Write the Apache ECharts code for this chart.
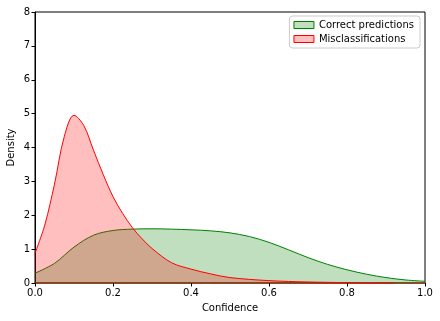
<!DOCTYPE html>
<html>
<head>
<meta charset="utf-8">
<script src="https://cdn.jsdelivr.net/npm/echarts@6/dist/echarts.min.js"></script>
<style>
  html, body { margin: 0; padding: 0; background: #fff; }
  #chart { width: 440px; height: 321px; }
</style>
</head>
<body>
<div id="chart"></div>
<script>
// KDE curves
const correctX = [0, 0.05, 0.1, 0.15, 0.2, 0.25, 0.3, 0.35, 0.4, 0.45, 0.5, 0.55, 0.6, 0.65, 0.7, 0.75, 0.8, 0.85, 0.9, 0.95, 1.0];
const correctY = [0.29, 0.58, 1.06, 1.41, 1.55, 1.59, 1.6, 1.59, 1.57, 1.54, 1.48, 1.37, 1.2, 0.98, 0.75, 0.55, 0.39, 0.26, 0.16, 0.09, 0.05];

const misX = [0, 0.025, 0.05, 0.075, 0.1, 0.125, 0.15, 0.175, 0.2, 0.225, 0.25, 0.275, 0.3, 0.35, 0.4, 0.45, 0.5, 0.6, 0.7, 0.8, 0.92];
const misY = [0.88, 1.71, 2.92, 4.32, 4.95, 4.65, 3.92, 3.2, 2.55, 2.05, 1.63, 1.3, 1.02, 0.6, 0.41, 0.27, 0.16, 0.07, 0.03, 0.012, 0];

const seriesNames = ['Correct predictions', 'Misclassifications'];
const xTicks = { min: 0, max: 1, step: 0.2 };
const yTicks = { min: 0, max: 8, step: 1 };

const pairs = (xs, ys) => xs.map((x, i) => [x, ys[i]]);

const font = 'DejaVu Sans';
const chart = echarts.init(document.getElementById('chart'), null, { renderer: 'canvas' });
chart.setOption({
  backgroundColor: '#fff',
  animation: false,
  grid: {
    left: 35, right: 15, top: 12, bottom: 38, outerBoundsMode: 'none', containLabel: false,
    show: true, borderColor: '#000', borderWidth: 1,
  },
  legend: {
    orient: 'vertical', right: 20, top: 16,
    itemWidth: 20, itemHeight: 7, itemGap: 4,
    padding: [4, 6, 4, 4],
    backgroundColor: '#fff', borderColor: '#ccc', borderWidth: 1, borderRadius: 3,
    textStyle: { color: '#000', fontFamily: font, fontSize: 10 },
    data: [
      { name: seriesNames[0], icon: 'rect', itemStyle: { color: '#bfdfbf', borderColor: '#008000', borderWidth: 1 } },
      { name: seriesNames[1], icon: 'rect', itemStyle: { color: '#ffbfbf', borderColor: '#ff0000', borderWidth: 1 } },
    ],
  },
  xAxis: {
    type: 'value', min: xTicks.min, max: xTicks.max, interval: xTicks.step,
    name: 'Confidence', nameLocation: 'middle', nameGap: 20, nameMoveOverlap: false,
    nameTextStyle: { color: '#000', fontFamily: font, fontSize: 10 },
    axisLine: { show: true, onZero: false, lineStyle: { color: '#8a3a10', width: 1.5 } },
    axisTick: { show: true, length: 3.5, lineStyle: { color: '#000' } },
    axisLabel: { color: '#000', fontFamily: font, fontSize: 10, margin: 5, formatter: v => v.toFixed(1) },
    splitLine: { show: false },
  },
  yAxis: {
    type: 'value', min: yTicks.min, max: yTicks.max, interval: yTicks.step,
    name: 'Density', nameLocation: 'middle', nameGap: 19, nameMoveOverlap: false,
    nameTextStyle: { color: '#000', fontFamily: font, fontSize: 10 },
    axisLine: { show: true, lineStyle: { color: '#000' } },
    axisTick: { show: true, length: 3.5, lineStyle: { color: '#000' } },
    axisLabel: { color: '#000', fontFamily: font, fontSize: 10, margin: 5 },
    splitLine: { show: false },
  },
  series: [
    {
      name: seriesNames[0], type: 'line', data: pairs(correctX, correctY),
      smooth: 0.35, showSymbol: false, z: 2,
      lineStyle: { color: '#008000', width: 1 },
      itemStyle: { color: '#bfdfbf', borderColor: '#008000' },
      areaStyle: { color: '#008000', opacity: 0.25 },
    },
    {
      name: seriesNames[1], type: 'line', data: pairs(misX, misY),
      smooth: 0.35, showSymbol: false, z: 3,
      lineStyle: { color: '#ff0000', width: 1 },
      itemStyle: { color: '#ffbfbf', borderColor: '#ff0000' },
      areaStyle: { color: '#ff0000', opacity: 0.25 },
    },
  ],
});
</script>
</body>
</html>
